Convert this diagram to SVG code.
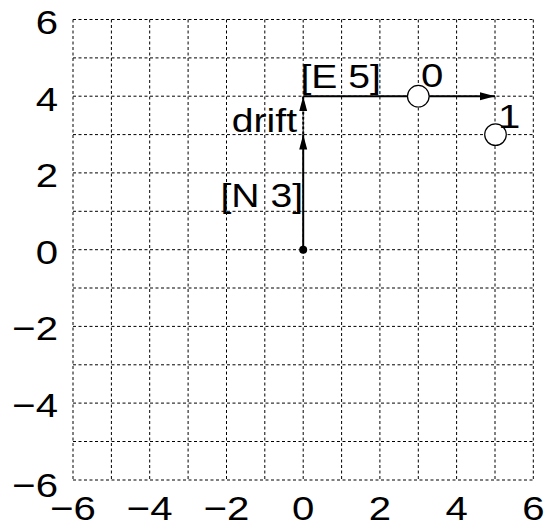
<svg xmlns="http://www.w3.org/2000/svg" width="556" height="527" viewBox="0 0 556 527">
<style>
.grid{stroke:#000;stroke-width:1;stroke-dasharray:3,2.5;fill:none}
.lbl{font-family:"Liberation Sans",Arial,sans-serif;font-size:34px;fill:#000}
.yl{text-anchor:end}
.xl{text-anchor:middle}
.arr{stroke:#000;stroke-width:2;fill:none}
.node{fill:#fff;stroke:#000;stroke-width:1.2}
</style>
<defs>
<marker id="ah" markerUnits="userSpaceOnUse" markerWidth="16" markerHeight="10" refX="15" refY="4" orient="auto">
<path d="M0,0 L15,4 L0,8 Z" fill="#000"/>
</marker>
</defs>
<rect width="556" height="527" fill="#fff"/>
<g id="grid" class="grid">
<path d="M73,19.5V480M111.4,19.5V480M149.7,19.5V480M188.1,19.5V480M226.5,19.5V480M264.8,19.5V480M303.2,19.5V480M341.6,19.5V480M379.9,19.5V480M418.3,19.5V480M456.6,19.5V480M495,19.5V480M533.3,19.5V480"/>
<path d="M73,19.5H533.3M73,57.9H533.3M73,96.2H533.3M73,134.6H533.3M73,172.9H533.3M73,211.3H533.3M73,249.7H533.3M73,288H533.3M73,326.4H533.3M73,364.8H533.3M73,403.1H533.3M73,441.5H533.3M73,480H533.3"/>
</g>
<g id="ticks" class="lbl">
<text class="yl" transform="translate(58,33.5) scale(1.18,1)">6</text>
<text class="yl" transform="translate(58,111) scale(1.18,1)">4</text>
<text class="yl" transform="translate(58,187) scale(1.18,1)">2</text>
<text class="yl" transform="translate(58,263.5) scale(1.18,1)">0</text>
<text class="yl" transform="translate(58,340) scale(1.18,1)">−2</text>
<text class="yl" transform="translate(58,417) scale(1.18,1)">−4</text>
<text class="yl" transform="translate(58,497) scale(1.18,1)">−6</text>
<text class="xl" transform="translate(73,519.5) scale(1.18,1)">−6</text>
<text class="xl" transform="translate(149.7,519.5) scale(1.18,1)">−4</text>
<text class="xl" transform="translate(226.5,519.5) scale(1.18,1)">−2</text>
<text class="xl" transform="translate(303.2,519.5) scale(1.18,1)">0</text>
<text class="xl" transform="translate(379.9,519.5) scale(1.18,1)">2</text>
<text class="xl" transform="translate(456.6,519.5) scale(1.18,1)">4</text>
<text class="xl" transform="translate(533.3,519.5) scale(1.18,1)">6</text>
</g>
<g id="connectors">
<line id="n3" class="arr" x1="303.2" y1="249.7" x2="303.2" y2="134.6" marker-end="url(#ah)"/>
<line id="drift" class="arr" x1="303.2" y1="134.6" x2="303.2" y2="96.2" stroke-dasharray="3,2" marker-end="url(#ah)"/>
<line id="e5" class="arr" x1="303.2" y1="96.2" x2="495" y2="96.2" marker-end="url(#ah)"/>
<circle cx="303.2" cy="249.7" r="4" fill="#000"/>
</g>
<g id="edge-labels" class="lbl">
<text class="yl" transform="translate(303,207) scale(1.15,1)">[N 3]</text>
<text class="yl" transform="translate(297,132) scale(1.15,1)">drift</text>
<text transform="translate(300.5,88) scale(1.15,1)">[E 5]</text>
</g>
<g id="node0">
<circle class="node" cx="418.3" cy="96.2" r="10.8"/>
<text class="lbl" transform="translate(421,87) scale(1.18,1)">0</text>
</g>
<g id="node1">
<circle class="node" cx="495.5" cy="134.6" r="10.8"/>
<text class="lbl" transform="translate(498,128) scale(1.18,1)">1</text>
</g>
</svg>
